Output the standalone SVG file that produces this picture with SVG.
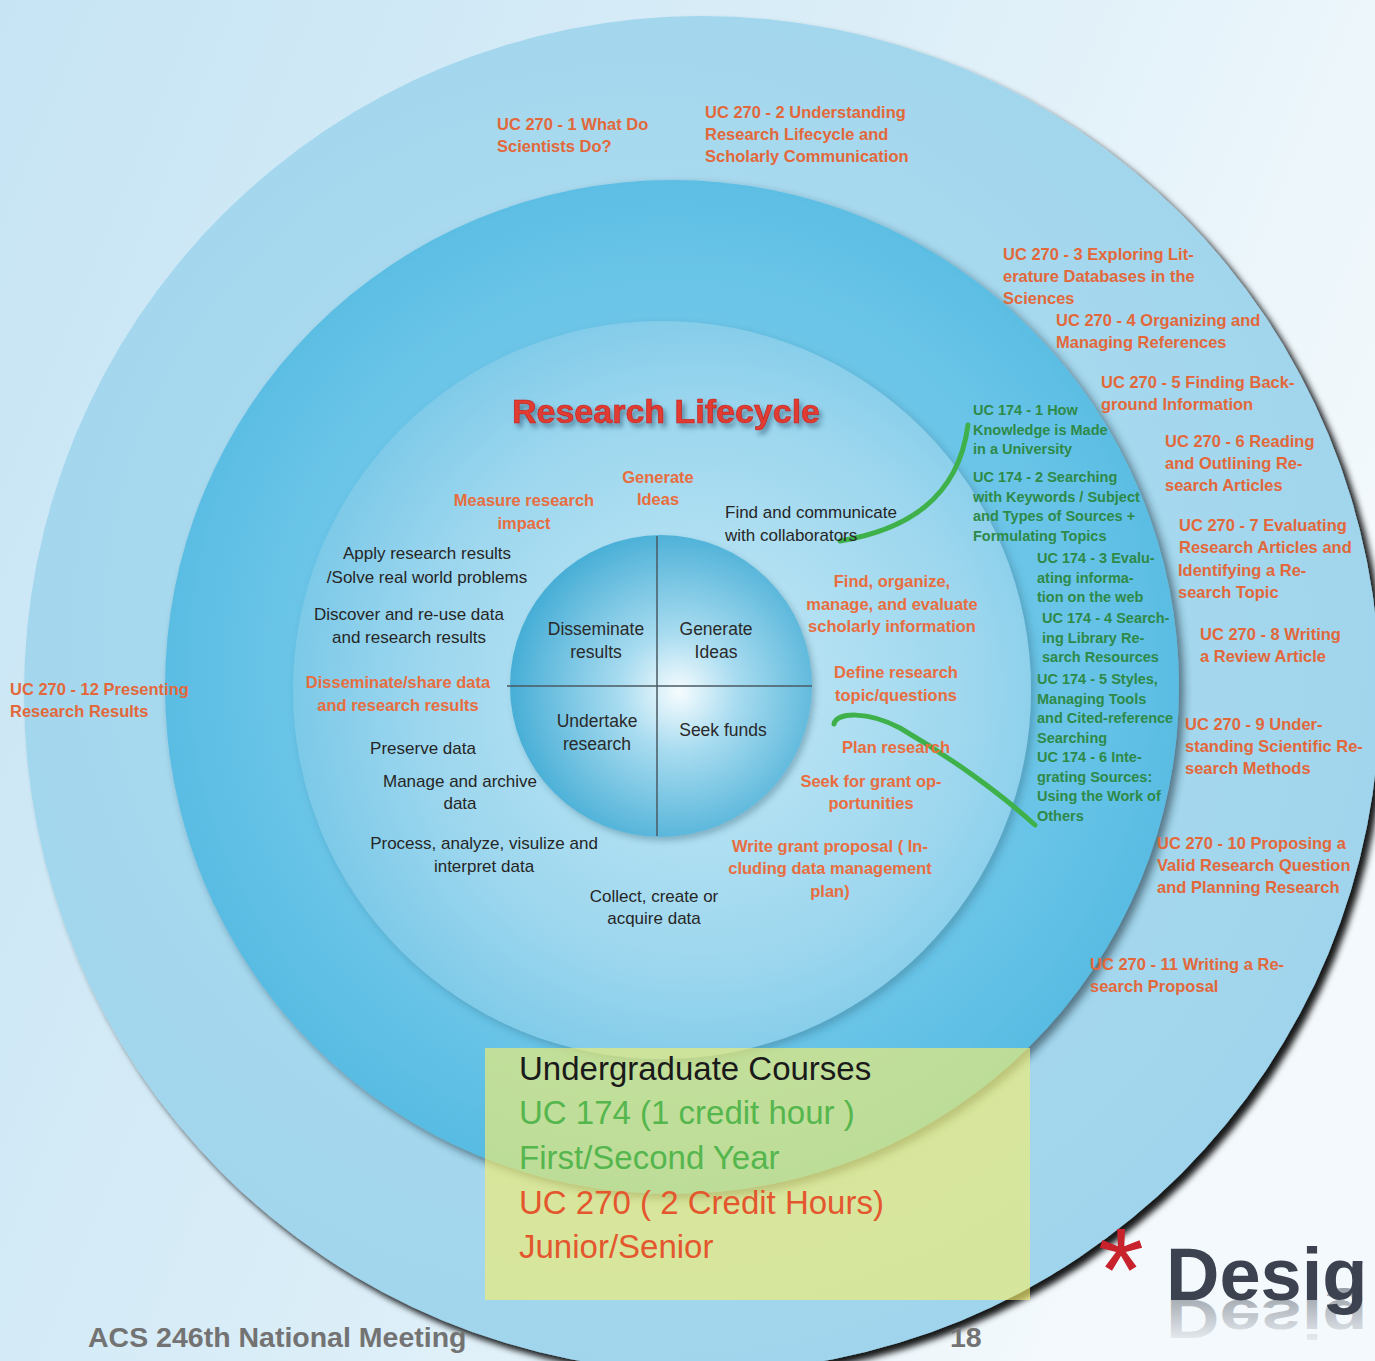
<svg xmlns="http://www.w3.org/2000/svg" width="1375" height="1361" viewBox="0 0 1375 1361">
<defs>
<style>
text{font-family:"Liberation Sans",Arial,sans-serif}
.o{font-weight:bold;font-size:16.5px;fill:#e2683b}
.oi{font-weight:bold;font-size:16.5px;fill:#e86d3f;text-anchor:middle}
.g{font-weight:bold;font-size:14.5px;fill:#2e8a48}
.k{font-size:17px;fill:#262626;text-anchor:middle}
.kl{font-size:17px;fill:#262626}
.kc{font-size:17.5px;fill:#2a2a2a;text-anchor:middle}
.bx{font-size:33px}
.arc{fill:none;stroke:#3fb14a;stroke-width:5;stroke-linecap:round}
.cross{stroke:#4a5a62;stroke-width:1.5}
</style>
<linearGradient id="bg" x1="0" y1="0" x2="1" y2="0.4">
<stop offset="0" stop-color="#c6e4f4"/><stop offset="0.55" stop-color="#dbeef8"/><stop offset="1" stop-color="#f3f9fc"/>
</linearGradient>
<radialGradient id="gOuter" cx="0.45" cy="0.45" r="0.6">
<stop offset="0" stop-color="#b4e0f2"/><stop offset="1" stop-color="#9ed4ec"/>
</radialGradient>
<radialGradient id="gMid" cx="0.5" cy="0.48" r="0.55">
<stop offset="0" stop-color="#8dd3ee"/><stop offset="0.75" stop-color="#66c3e7"/><stop offset="1" stop-color="#54b9e1"/>
</radialGradient>
<radialGradient id="gInner" cx="0.55" cy="0.5" r="0.55">
<stop offset="0" stop-color="#c6e9f6"/><stop offset="0.7" stop-color="#9bd6ee"/><stop offset="1" stop-color="#7cc9e8"/>
</radialGradient>
<radialGradient id="gCore" cx="0.55" cy="0.52" r="0.55" fx="0.56" fy="0.52">
<stop offset="0" stop-color="#f6fcfe"/><stop offset="0.35" stop-color="#a9dcf0"/><stop offset="1" stop-color="#47aed6"/>
</radialGradient>
<linearGradient id="refl" x1="0" y1="0" x2="0" y2="1">
<stop offset="0" stop-color="#3d4250" stop-opacity="0"/><stop offset="1" stop-color="#3d4250" stop-opacity="0.5"/>
</linearGradient>
<filter id="shOuter" x="-10%" y="-10%" width="125%" height="125%"><feDropShadow dx="6" dy="6" stdDeviation="3" flood-color="#000" flood-opacity="0.9"/></filter>
<filter id="shMid" x="-10%" y="-10%" width="125%" height="125%"><feDropShadow dx="5" dy="5" stdDeviation="4" flood-color="#1d3440" flood-opacity="0.6"/></filter>
<filter id="shInner" x="-10%" y="-10%" width="125%" height="125%"><feDropShadow dx="4" dy="4" stdDeviation="4" flood-color="#2a5a70" flood-opacity="0.35"/></filter>
<filter id="shCore" x="-10%" y="-10%" width="125%" height="125%"><feDropShadow dx="3" dy="4" stdDeviation="3" flood-color="#2a5a70" flood-opacity="0.35"/></filter>
<filter id="shTitle" x="-10%" y="-30%" width="125%" height="170%"><feDropShadow dx="3" dy="4" stdDeviation="2.5" flood-color="#1c4a63" flood-opacity="0.55"/></filter>
</defs>

<rect id="background" x="0" y="0" width="1375" height="1361" fill="url(#bg)"/>

<g id="ring-outer"><circle cx="702" cy="694" r="678" fill="url(#gOuter)" filter="url(#shOuter)"/></g>
<g id="ring-middle"><circle cx="672" cy="687" r="507" fill="url(#gMid)" filter="url(#shMid)"/></g>
<g id="ring-inner"><circle cx="662" cy="690" r="369" fill="url(#gInner)" filter="url(#shInner)"/></g>
<g id="core">
<circle cx="661" cy="686" r="151" fill="url(#gCore)" filter="url(#shCore)"/>
<line class="cross" x1="657" y1="536" x2="657" y2="836"/>
<line class="cross" x1="507" y1="686" x2="812" y2="686"/>
</g>

<g id="connectors">
<path class="arc" d="M840 541 C905 530 958 500 968 425"/>
<path class="arc" d="M834 724 C836 712 868 711 900 728 C950 757 1000 793 1035 825"/>
</g>

<g id="title"><text x="666" y="423" font-size="34" font-weight="bold" fill="#e23a30" text-anchor="middle" stroke="#b8231c" stroke-width="0.6" filter="url(#shTitle)">Research Lifecycle</text></g>

<g id="core-labels">
<text class="kc" x="596" y="635"><tspan x="596">Disseminate</tspan><tspan x="596" dy="23">results</tspan></text>
<text class="kc" x="716" y="635"><tspan x="716">Generate</tspan><tspan x="716" dy="23">Ideas</tspan></text>
<text class="kc" x="597" y="727"><tspan x="597">Undertake</tspan><tspan x="597" dy="23">research</tspan></text>
<text class="kc" x="723" y="736">Seek funds</text>
</g>

<g id="lifecycle-steps">
<g id="s-generate"><text class="oi" x="658" y="483"><tspan x="658">Generate</tspan><tspan x="658" dy="22">Ideas</tspan></text></g>
<g id="s-measure"><text class="oi" x="524" y="506"><tspan x="524">Measure research</tspan><tspan x="524" dy="23">impact</tspan></text></g>
<g id="s-apply"><text class="k" x="427" y="559"><tspan x="427">Apply research results</tspan><tspan x="427" dy="24">/Solve real world problems</tspan></text></g>
<g id="s-discover"><text class="k" x="409" y="620"><tspan x="409">Discover and re-use data</tspan><tspan x="409" dy="23">and research results</tspan></text></g>
<g id="s-disseminate"><text class="oi" x="398" y="688"><tspan x="398">Disseminate/share data</tspan><tspan x="398" dy="23">and research results</tspan></text></g>
<g id="s-preserve"><text class="k" x="423" y="754">Preserve data</text></g>
<g id="s-manage"><text class="k" x="460" y="787"><tspan x="460">Manage and archive</tspan><tspan x="460" dy="22">data</tspan></text></g>
<g id="s-process"><text class="k" x="484" y="849"><tspan x="484">Process, analyze, visulize and</tspan><tspan x="484" dy="23">interpret  data</tspan></text></g>
<g id="s-collect"><text class="k" x="654" y="902"><tspan x="654">Collect, create or</tspan><tspan x="654" dy="22">acquire data</tspan></text></g>
<g id="s-find-collab"><text class="kl" x="725" y="518"><tspan x="725">Find and communicate</tspan><tspan x="725" dy="23">with collaborators</tspan></text></g>
<g id="s-find-org"><text class="oi" x="892" y="587"><tspan x="892">Find, organize,</tspan><tspan x="892" dy="23">manage, and evaluate</tspan><tspan x="892" dy="22">scholarly information</tspan></text></g>
<g id="s-define"><text class="oi" x="896" y="678"><tspan x="896">Define research</tspan><tspan x="896" dy="23">topic/questions</tspan></text></g>
<g id="s-plan"><text class="oi" x="896" y="753">Plan research</text></g>
<g id="s-seek"><text class="oi" x="871" y="787"><tspan x="871">Seek for grant op-</tspan><tspan x="871" dy="22">portunities</tspan></text></g>
<g id="s-write"><text class="oi" x="830" y="852"><tspan x="830">Write grant proposal ( In-</tspan><tspan x="830" dy="22">cluding data management</tspan><tspan x="830" dy="23">plan)</tspan></text></g>
</g>

<g id="uc174">
<g id="uc174-1"><text class="g" x="973" y="415"><tspan x="973">UC 174 - 1 How</tspan><tspan x="973" dy="19.5">Knowledge is Made</tspan><tspan x="973" dy="19.5">in a  University</tspan></text></g>
<g id="uc174-2"><text class="g" x="973" y="482"><tspan x="973">UC 174 - 2 Searching</tspan><tspan x="973" dy="19.7">with Keywords / Subject</tspan><tspan x="973" dy="19.7">and Types of Sources +</tspan><tspan x="973" dy="19.7">Formulating Topics</tspan></text></g>
<g id="uc174-3"><text class="g" x="1037" y="563"><tspan x="1037">UC 174 - 3 Evalu-</tspan><tspan x="1037" dy="19.6">ating informa-</tspan><tspan x="1037" dy="19.6">tion on the web</tspan></text></g>
<g id="uc174-4"><text class="g" x="1042" y="623"><tspan x="1042">UC 174 - 4 Search-</tspan><tspan x="1042" dy="19.6">ing Library Re-</tspan><tspan x="1042" dy="19.6">sarch Resources</tspan></text></g>
<g id="uc174-5"><text class="g" x="1037" y="684"><tspan x="1037">UC 174 - 5 Styles,</tspan><tspan x="1037" dy="19.6">Managing Tools</tspan><tspan x="1037" dy="19.6">and Cited-reference</tspan><tspan x="1037" dy="19.6">Searching</tspan></text></g>
<g id="uc174-6"><text class="g" x="1037" y="762"><tspan x="1037">UC 174 - 6 Inte-</tspan><tspan x="1037" dy="19.6">grating Sources:</tspan><tspan x="1037" dy="19.6">Using the Work of</tspan><tspan x="1037" dy="19.6">Others</tspan></text></g>
</g>

<g id="uc270">
<g id="uc270-1"><text class="o" x="497" y="130"><tspan x="497">UC 270 - 1 What Do</tspan><tspan x="497" dy="22">Scientists Do?</tspan></text></g>
<g id="uc270-2"><text class="o" x="705" y="118"><tspan x="705">UC 270 - 2 Understanding</tspan><tspan x="705" dy="22">Research Lifecycle and</tspan><tspan x="705" dy="22">Scholarly Communication</tspan></text></g>
<g id="uc270-3"><text class="o" x="1003" y="260"><tspan x="1003">UC 270 - 3 Exploring Lit-</tspan><tspan x="1003" dy="22">erature Databases in the</tspan><tspan x="1003" dy="22">Sciences</tspan></text></g>
<g id="uc270-4"><text class="o" x="1056" y="326"><tspan x="1056">UC 270 - 4 Organizing and</tspan><tspan x="1056" dy="22">Managing References</tspan></text></g>
<g id="uc270-5"><text class="o" x="1101" y="388"><tspan x="1101">UC 270 - 5 Finding Back-</tspan><tspan x="1101" dy="22">ground Information</tspan></text></g>
<g id="uc270-6"><text class="o" x="1165" y="447"><tspan x="1165">UC 270 - 6 Reading</tspan><tspan x="1165" dy="22">and Outlining Re-</tspan><tspan x="1165" dy="22">search Articles</tspan></text></g>
<g id="uc270-7"><text class="o" x="1179" y="531"><tspan x="1179">UC 270 - 7 Evaluating</tspan><tspan x="1179" dy="22.3">Research Articles and</tspan><tspan x="1178" dy="22.3">Identifying a Re-</tspan><tspan x="1178" dy="22.3">search Topic</tspan></text></g>
<g id="uc270-8"><text class="o" x="1200" y="640"><tspan x="1200">UC 270 - 8 Writing</tspan><tspan x="1200" dy="22">a Review Article</tspan></text></g>
<g id="uc270-9"><text class="o" x="1185" y="730"><tspan x="1185">UC 270 - 9 Under-</tspan><tspan x="1185" dy="22">standing Scientific Re-</tspan><tspan x="1185" dy="22">search Methods</tspan></text></g>
<g id="uc270-10"><text class="o" x="1157" y="849"><tspan x="1157">UC 270 - 10 Proposing a</tspan><tspan x="1157" dy="22">Valid Research Question</tspan><tspan x="1157" dy="22">and Planning Research</tspan></text></g>
<g id="uc270-11"><text class="o" x="1090" y="970"><tspan x="1090">UC 270 - 11 Writing a Re-</tspan><tspan x="1090" dy="22">search Proposal</tspan></text></g>
<g id="uc270-12"><text class="o" x="10" y="695"><tspan x="10">UC 270 - 12 Presenting</tspan><tspan x="10" dy="22">Research Results</tspan></text></g>
</g>

<g id="legend">
<rect x="485" y="1048" width="545" height="252" fill="#f2ee70" opacity="0.65"/>
<text class="bx" x="519" y="1080" fill="#1a1a1a">Undergraduate Courses</text>
<text class="bx" x="519" y="1124" fill="#55b64e">UC 174 (1 credit hour )</text>
<text class="bx" x="519" y="1169" fill="#55b64e">First/Second Year</text>
<text class="bx" x="519" y="1214" fill="#e4572e">UC 270 ( 2 Credit Hours)</text>
<text class="bx" x="519" y="1258" fill="#e4572e">Junior/Senior</text>
</g>

<g id="footer">
<text x="88" y="1347" font-size="28.5" font-weight="bold" fill="#737373">ACS 246th National Meeting</text>
<text x="950" y="1347" font-size="28.5" font-weight="bold" fill="#737373">18</text>
<text x="1098" y="1311" font-size="118" fill="#c8232c">*</text>
<text x="1166" y="1300" font-size="74" font-weight="bold" fill="#3d4250">Desig</text>
<text x="1166" y="1300" font-size="74" font-weight="bold" fill="url(#refl)" transform="matrix(1 0 0 -0.75 0 2275)">Desig</text>
</g>
</svg>
